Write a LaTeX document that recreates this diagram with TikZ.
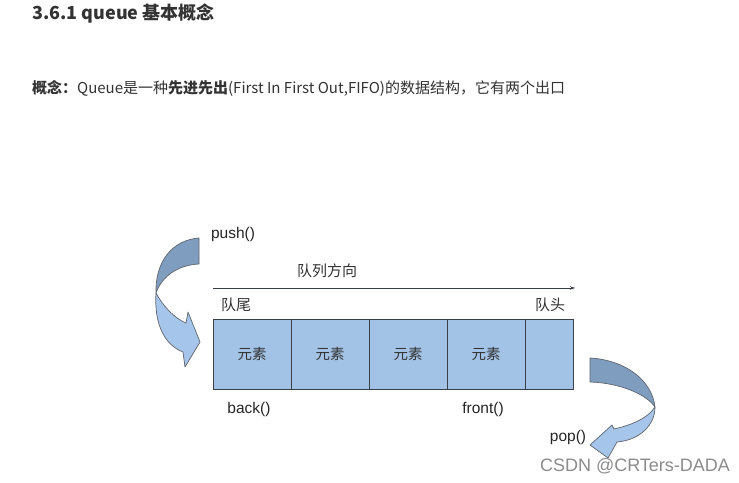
\documentclass[tikz,border=0pt]{standalone}
\usepackage{fontspec}
\usetikzlibrary{arrows.meta}
\setmainfont{Noto Sans CJK SC}
\newfontfamily\arialf{Liberation Sans}
\definecolor{txt}{HTML}{333333}
\definecolor{cellfill}{HTML}{A3C3E6}
\definecolor{darkband}{HTML}{7F9DBE}
\definecolor{lightband}{HTML}{A5C6EA}
\definecolor{edge}{HTML}{3A3F48}
\begin{document}
\begin{tikzpicture}[x=1pt,y=-1pt,
  cell/.style={draw=edge,line width=0.9pt,fill=cellfill,minimum height=70pt,inner sep=0pt,outer sep=0pt,anchor=north west,font=\fontsize{14.5}{14.5}\selectfont,text=txt},
  lbl/.style={inner sep=0pt,text=txt,font=\fontsize{15}{15}\selectfont},
  fn/.style={inner sep=0pt,text=black!85,font=\arialf\fontsize{15.5}{15.5}\selectfont},
  band/.style={draw=edge!80,line width=0.7pt,line join=round}]
\useasboundingbox[fill=white] (0,0) rectangle (739,482);
% heading
\node[anchor=west,inner sep=0pt,text=txt,font=\fontsize{18}{18}\selectfont\bfseries] (title) at (32,14) {3.6.1 queue 基本概念};
\node[anchor=west,inner sep=0pt,text=txt,font=\fontsize{15}{15}\selectfont] (def) at (32,88)
 {\textbf{概念：}Queue是一种\textbf{先进先出}(First In First Out,FIFO)的数据结构，它有两个出口};
% cells
\node[cell,minimum width=78pt] (c1) at (213,319) {元素};
\node[cell,minimum width=78pt] (c2) at (291,319) {元素};
\node[cell,minimum width=78pt] (c3) at (369,319) {元素};
\node[cell,minimum width=78pt] (c4) at (447,319) {元素};
\node[cell,minimum width=48pt] (c5) at (525,319) {};
% direction
\coordinate (dirA) at (213,288);
\coordinate (dirB) at (575,288);
\draw[edge,line width=0.8pt,-{Stealth[length=5pt,width=3.5pt]}] (dirA) -- (dirB);
\node[lbl] (dirlbl) at (327,271) {队列方向};
\node[lbl] (tail) at (236,305) {队尾};
\node[lbl] (head) at (550,305) {队头};
% function labels
\node[fn] (push) at (233,234) {push()};
\node[fn] (back) at (249,409) {back()};
\node[fn] (front) at (483,409) {front()};
\node[fn] (pop) at (568,437) {pop()};
% push arrow
\filldraw[band,fill=lightband] (156,293) .. controls (154,325) and (165,345) .. (183,352) -- (185,367) -- (200,342) -- (188,312) -- (186,323)
  .. controls (174,318) and (163,306) .. (156,293) -- cycle;
\filldraw[band,fill=darkband] (199,238) .. controls (172,240) and (155,262) .. (156,293)
  .. controls (162,276) and (178,265) .. (199,264) -- cycle;
% pop arrow
\filldraw[band,fill=lightband] (655,407) .. controls (655,425) and (640,440) .. (617,442) -- (608,458) -- (590,445) -- (612,425) -- (614,429)
  .. controls (632,425) and (648,418) .. (655,407) -- cycle;
\filldraw[band,fill=darkband] (590,358) .. controls (625,360) and (652,380) .. (655,407)
  .. controls (646,394) and (620,383) .. (590,382) -- cycle;
% watermark
\node[inner sep=0pt,text=black!45,font=\arialf\fontsize{18}{18}\selectfont] (wm) at (635,466) {CSDN @CRTers-DADA};
\end{tikzpicture}
\end{document}
